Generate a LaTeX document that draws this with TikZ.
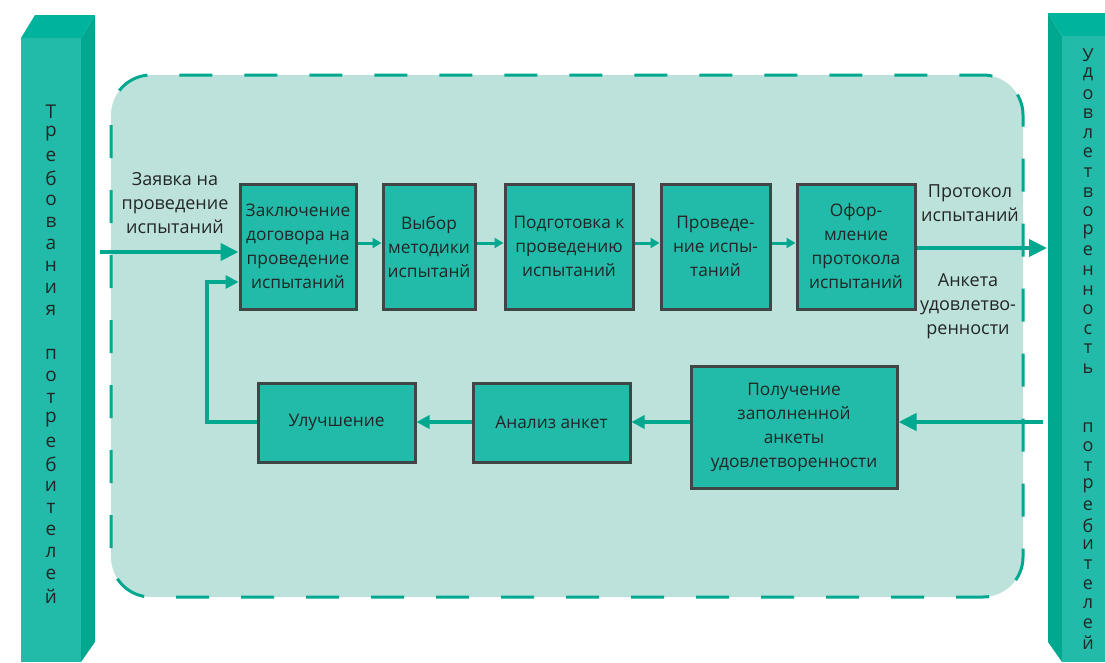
\documentclass[tikz,border=0pt]{standalone}
\usepackage{fontspec}
\setmainfont{Open Sans}
\usetikzlibrary{arrows.meta}
\definecolor{barfront}{HTML}{22BAA8}
\definecolor{bartop}{HTML}{00B39C}
\definecolor{barside}{HTML}{00A88F}
\definecolor{boxfill}{HTML}{22BAA8}
\definecolor{boxline}{HTML}{404545}
\definecolor{bgfill}{HTML}{BDE2DB}
\definecolor{arr}{HTML}{00A88F}
\definecolor{txt}{HTML}{222626}
\tikzset{
  stepbox/.style={draw=boxline, fill=boxfill, line width=3pt, inner sep=0pt, align=center,
    text=txt, font=\fontsize{17.3}{24}\selectfont},
  lbl/.style={inner sep=0pt, align=center, text=txt, font=\fontsize{18}{24}\selectfont},
  barletter/.style={inner sep=0pt, text=txt, font=\fontsize{19}{22}\selectfont},
  barletterR/.style={inner sep=0pt, text=txt, font=\fontsize{18}{20}\selectfont},
  small/.style={draw=arr, line width=3pt, -{Triangle[length=9pt,width=10pt]}},
  mid/.style={draw=arr, line width=3.5pt, -{Triangle[length=13pt,width=13pt]}},
  big/.style={draw=arr, line width=4pt, -{Triangle[length=18pt,width=17pt]}},
}
\begin{document}
\begin{tikzpicture}[x=1pt,y=-1pt]
\useasboundingbox (0,0) rectangle (1105,662);
% background dashed region
\fill[bgfill, rounded corners=40pt] (111,75) rectangle (1023,597);
\draw[arr, line width=3pt, dash pattern=on 33pt off 32pt, dash phase=-10pt, rounded corners=40pt] (111,75) rectangle (1023,597);
% left bar
\fill[barside] (81,38) -- (95,15) -- (95,642) -- (81,662) -- cycle;
\fill[bartop] (21,38) -- (35,15) -- (95,15) -- (81,38) -- cycle;
\fill[barfront] (21,38) rectangle (81,662);
% right bar
\fill[barside] (1048,13) -- (1062,36) -- (1062,662) -- (1048,642) -- cycle;
\fill[bartop] (1048,13) -- (1105,13) -- (1105,36) -- (1062,36) -- cycle;
\fill[barfront] (1062,36) rectangle (1105,662);
% bar letters
\foreach \ch [count=\i from 0] in {Т,р,е,б,о,в,а,н,и,я,{},п,о,т,р,е,б,и,т,е,л,е,й}
  \node[barletter] (L\i) at (51,112+22*\i) {\ch};
\foreach \ch [count=\i from 0] in {У,д,о,в,л,е,т,в,о,р,е,н,н,о,с,т,ь,{},{},п,о,т,р,е,б,и,т,е,л,е,й}
  \node[barletterR] (R\i) at (1088,55+19.6*\i) {\ch};
% top row
\node[stepbox, minimum width=116pt, minimum height=125pt] (b1) at (298,246.5) {Заключение\\договора на\\проведение\\испытаний};
\node[stepbox, minimum width=92pt, minimum height=125pt] (b2) at (429,246.5) {Выбор\\методики\\испытанй};
\node[stepbox, minimum width=128pt, minimum height=125pt] (b3) at (569,246.5) {Подготовка к\\проведению\\испытаний};
\node[stepbox, minimum width=109pt, minimum height=125pt] (b4) at (715.5,246.5) {Проведе-\\ние испы-\\таний};
\node[stepbox, minimum width=118pt, minimum height=125pt] (b5) at (856,246.5) {Офор-\\мление\\протокола\\испытаний};
% bottom row
\node[stepbox, minimum width=157pt, minimum height=79pt] (u) at (336.5,422.5) {Улучшение};
\node[stepbox, minimum width=157pt, minimum height=79pt] (a) at (551.5,422.5) {Анализ анкет};
\node[stepbox, minimum width=206pt, minimum height=122pt] (p) at (794,427) {Получение\\заполненной\\анкеты\\удовлетворенности};
% labels
\node[lbl] (t1) at (175,203) {Заявка на\\проведение\\испытаний};
\node[lbl] (t2) at (970,203) {Протокол\\испытаний};
\node[lbl] (t3) at (968,306) {Анкета\\удовлетво-\\ренности};
% coordinates
\coordinate (inL) at (100,252);
\coordinate (outR) at (1047,248);
\coordinate (inR) at (1043,422);
\coordinate (fb1) at (207,422);
\coordinate (fb2) at (207,282);
% arrows
\draw[big] (inL) -- (inL -| b1.west);
\foreach \s/\t in {b1/b2,b2/b3,b3/b4,b4/b5}
  \draw[small] (\s.east |- 0,243) -- (\t.west |- 0,243);
\draw[big] (b5.east |- outR) -- (outR);
\draw[big] (inR) -- (inR -| p.east);
\draw[mid] (p.west |- 0,422) -- (a.east |- 0,422);
\draw[mid] (a.west |- 0,422) -- (u.east |- 0,422);
\draw[arr, line width=3.5pt, line join=miter] (u.west |- fb1) -- (fb1) -- (fb2) -- ([xshift=-12pt]fb2 -| b1.west);
\draw[mid] (fb2) -- (fb2 -| b1.west);
\end{tikzpicture}
\end{document}
